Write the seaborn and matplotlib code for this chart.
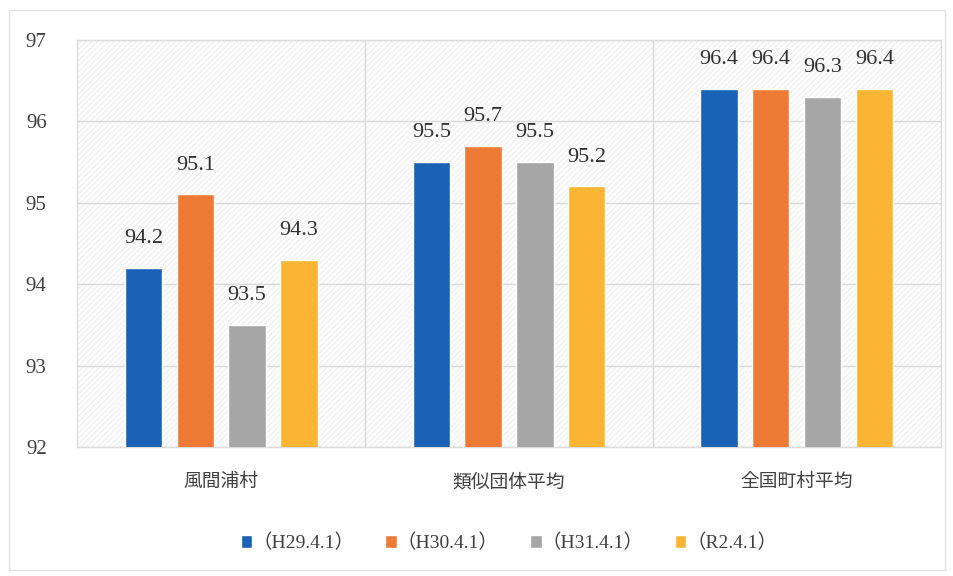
import matplotlib
matplotlib.use("Agg")
import matplotlib.pyplot as plt
import seaborn as sns
import pandas as pd
from matplotlib.patches import Rectangle

categories = ["風間浦村", "類似団体平均", "全国町村平均"]
series = ["（H29.4.1）", "（H30.4.1）", "（H31.4.1）", "（R2.4.1）"]
h29 = [94.2, 95.5, 96.4]
h30 = [95.1, 95.7, 96.4]
h31 = [93.5, 95.5, 96.3]
r2 = [94.3, 95.2, 96.4]
yticks = [92, 93, 94, 95, 96, 97]
colors = ["#1a62b5", "#ef7a35", "#a6a6a6", "#fbb535"]

rows = []
for s, vals in zip(series, [h29, h30, h31, r2]):
    for c, v in zip(categories, vals):
        rows.append({"cat": c, "series": s, "value": v})
df = pd.DataFrame(rows)

sns.set_theme(style="white")
plt.rcParams["font.family"] = ["Liberation Serif", "Noto Sans CJK JP", "DejaVu Sans"]

fig = plt.figure(figsize=(9.54, 5.76), dpi=100)
ax = fig.add_axes([0.081, 0.224, 0.905, 0.707])

# outer chart frame
fig.patches.append(Rectangle((0.009, 0.01), 0.982, 0.972, transform=fig.transFigure,
                             fill=False, edgecolor="#e2e2e2", linewidth=1.0))

ax.add_patch(Rectangle((0, 0), 1, 1, transform=ax.transAxes, facecolor="white",
                       hatch="//////", edgecolor="#f1f1f1", linewidth=0, zorder=0))
sns.barplot(data=df, x="cat", y="value", hue="series", palette=colors,
            width=0.72, gap=0.28, ax=ax, saturation=1, zorder=3)

ax.set_ylim(92, 97)
ax.set_xlim(-0.5, 2.5)
ax.set_yticks(yticks)
ax.set_yticklabels([str(t) for t in yticks], fontsize=15, color="#404040")
ax.tick_params(axis="y", pad=22, length=0)
ax.tick_params(axis="x", pad=19, length=0)
ax.set_xticks(range(len(categories)))
ax.set_xticklabels(categories, fontsize=13.5, color="#404040")
ax.set_xlabel("")
ax.set_ylabel("")

ax.yaxis.grid(True, color="#d9d9d9", linewidth=1.0, zorder=1)
for xb in [0.5, 1.5]:
    ax.axvline(xb, color="#d9d9d9", linewidth=1.0, zorder=1)
for sp in ax.spines.values():
    sp.set_color("#dcdcdc")
    sp.set_linewidth(1.0)
ax.set_axisbelow(True)

for cont in ax.containers:
    ax.bar_label(cont, labels=[f"{b.get_height():.1f}" for b in cont],
                 padding=14, fontsize=16, color="#303030")

handles, labels = ax.get_legend_handles_labels()
ax.legend(handles, labels, loc="center", bbox_to_anchor=(0.5, -0.236), ncol=4,
          frameon=False, fontsize=14, handlelength=0.6, handleheight=0.6,
          handletextpad=0.0, columnspacing=1.6, labelcolor="#404040")

fig.savefig("out.png", dpi=100, facecolor="white")
